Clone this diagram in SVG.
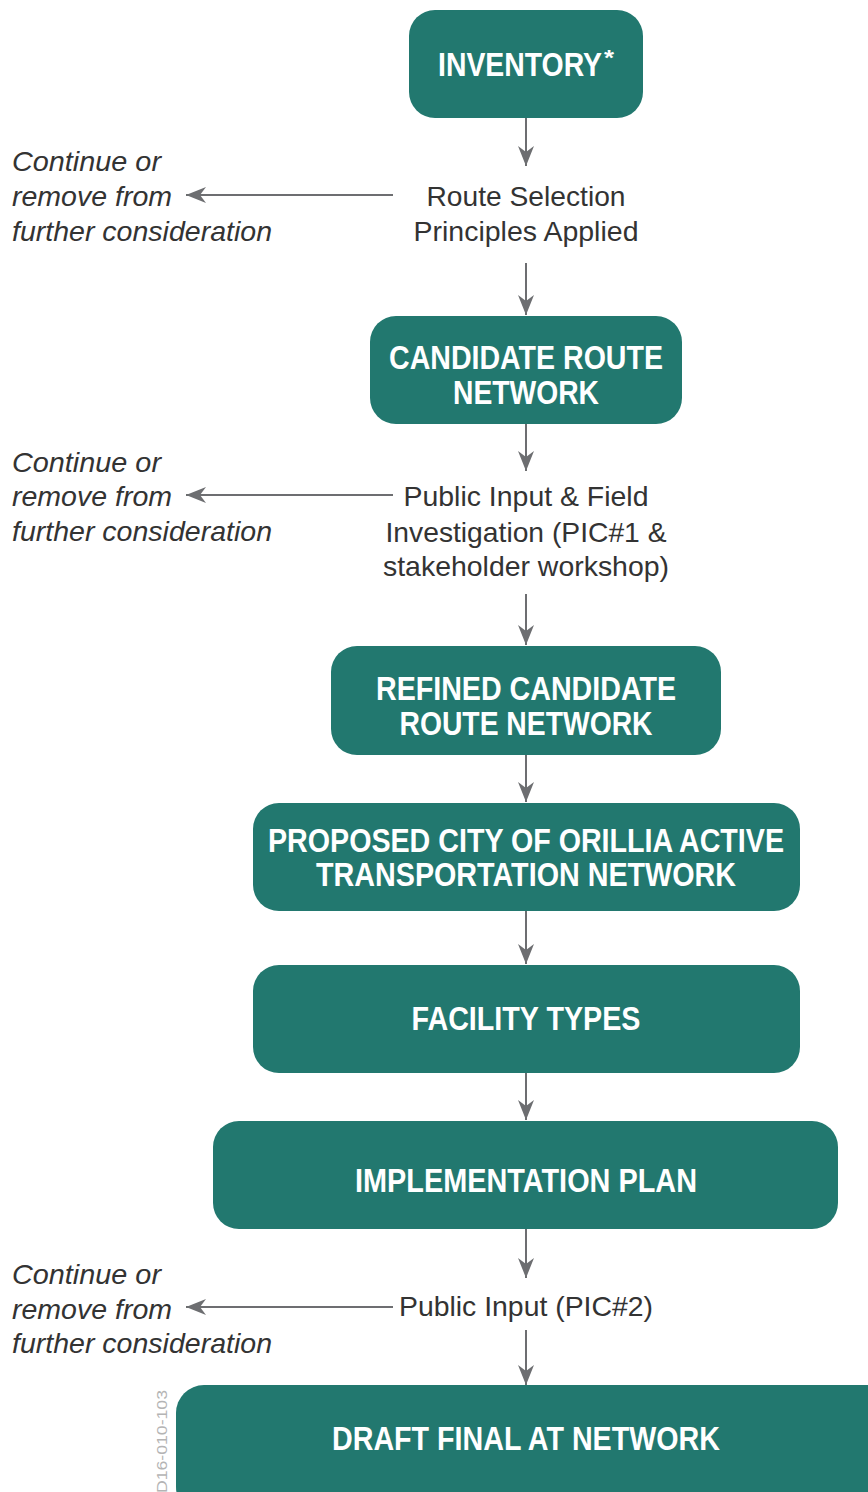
<svg xmlns="http://www.w3.org/2000/svg" width="868" height="1492" viewBox="0 0 868 1492">
  <style>
    .box { fill: #22786f; }
    .lbl { font-family: "Liberation Sans", Arial, sans-serif; font-weight: bold; font-size: 33px; fill: #ffffff; text-anchor: middle; }
    .sup { font-family: "Liberation Sans", Arial, sans-serif; font-weight: bold; font-size: 22px; fill: #ffffff; }
    .step { font-family: "Liberation Sans", Arial, sans-serif; font-size: 28px; fill: #333333; text-anchor: middle; }
    .side { font-family: "Liberation Sans", Arial, sans-serif; font-style: italic; font-size: 28px; fill: #333333; }
    .conn { stroke: #6d6e71; stroke-width: 2; fill: none; marker-end: url(#head); }
    .code { font-family: "Liberation Sans", Arial, sans-serif; font-size: 15px; fill: #b4b4b4; }
  </style>
  <defs>
    <marker id="head" markerUnits="userSpaceOnUse" markerWidth="24" markerHeight="18" refX="20" refY="8" orient="auto">
      <path d="M20,8 L0,0 L6,8 L0,16 Z" fill="#6d6e71"/>
    </marker>
  </defs>

  <rect width="868" height="1492" fill="#ffffff"/>

  <!-- connectors -->
  <g id="connectors">
    <path class="conn" d="M526,118 V166"/>
    <path class="conn" d="M393,195 H186"/>
    <path class="conn" d="M526,263 V315"/>
    <path class="conn" d="M526,424 V471"/>
    <path class="conn" d="M393,495 H186"/>
    <path class="conn" d="M526,594 V645"/>
    <path class="conn" d="M526,755 V802"/>
    <path class="conn" d="M526,911 V964"/>
    <path class="conn" d="M526,1073 V1120"/>
    <path class="conn" d="M526,1229 V1278"/>
    <path class="conn" d="M393,1307 H186"/>
    <path class="conn" d="M526,1330 V1385"/>
  </g>

  <!-- process boxes -->
  <g id="inventory">
    <rect class="box" x="409" y="10" width="234" height="108" rx="26"/>
    <text class="lbl" x="438" y="76" style="text-anchor:start" textLength="164" lengthAdjust="spacingAndGlyphs">INVENTORY</text>
    <text class="sup" x="604" y="65" textLength="10" lengthAdjust="spacingAndGlyphs">*</text>
  </g>

  <g id="candidate">
    <rect class="box" x="370" y="316" width="312" height="108" rx="26"/>
    <text class="lbl" x="526" y="369" textLength="274" lengthAdjust="spacingAndGlyphs">CANDIDATE ROUTE</text>
    <text class="lbl" x="526" y="404" textLength="146" lengthAdjust="spacingAndGlyphs">NETWORK</text>
  </g>

  <g id="refined">
    <rect class="box" x="331" y="646" width="390" height="109" rx="26"/>
    <text class="lbl" x="526" y="700" textLength="300" lengthAdjust="spacingAndGlyphs">REFINED CANDIDATE</text>
    <text class="lbl" x="526" y="735" textLength="253" lengthAdjust="spacingAndGlyphs">ROUTE NETWORK</text>
  </g>

  <g id="proposed">
    <rect class="box" x="253" y="803" width="547" height="108" rx="26"/>
    <text class="lbl" x="526" y="852" textLength="516" lengthAdjust="spacingAndGlyphs">PROPOSED CITY OF ORILLIA ACTIVE</text>
    <text class="lbl" x="526" y="886" textLength="420" lengthAdjust="spacingAndGlyphs">TRANSPORTATION NETWORK</text>
  </g>

  <g id="facility">
    <rect class="box" x="253" y="965" width="547" height="108" rx="26"/>
    <text class="lbl" x="526" y="1030" textLength="229" lengthAdjust="spacingAndGlyphs">FACILITY TYPES</text>
  </g>

  <g id="implementation">
    <rect class="box" x="213" y="1121" width="625" height="108" rx="26"/>
    <text class="lbl" x="526" y="1192" textLength="342" lengthAdjust="spacingAndGlyphs">IMPLEMENTATION PLAN</text>
  </g>

  <g id="draft">
    <rect class="box" x="176" y="1385" width="720" height="130" rx="28"/>
    <text class="lbl" x="526" y="1450" textLength="388" lengthAdjust="spacingAndGlyphs">DRAFT FINAL AT NETWORK</text>
  </g>

  <!-- review steps between boxes -->
  <g id="route-selection">
    <text class="step" x="526" y="206" textLength="199" lengthAdjust="spacingAndGlyphs">Route Selection</text>
    <text class="step" x="526" y="241" textLength="225" lengthAdjust="spacingAndGlyphs">Principles Applied</text>
  </g>

  <g id="public-input-1">
    <text class="step" x="526" y="506" textLength="245" lengthAdjust="spacingAndGlyphs">Public Input &amp; Field</text>
    <text class="step" x="526" y="542" textLength="281" lengthAdjust="spacingAndGlyphs">Investigation (PIC#1 &amp;</text>
    <text class="step" x="526" y="576" textLength="286" lengthAdjust="spacingAndGlyphs">stakeholder workshop)</text>
  </g>

  <g id="public-input-2">
    <text class="step" x="526" y="1316" textLength="254" lengthAdjust="spacingAndGlyphs">Public Input (PIC#2)</text>
  </g>

  <!-- side outcomes -->
  <g id="outcome-1">
    <text class="side" x="12" y="171" textLength="149" lengthAdjust="spacingAndGlyphs">Continue or</text>
    <text class="side" x="12" y="206" textLength="160" lengthAdjust="spacingAndGlyphs">remove from</text>
    <text class="side" x="12" y="241" textLength="260" lengthAdjust="spacingAndGlyphs">further consideration</text>
  </g>

  <g id="outcome-2">
    <text class="side" x="12" y="472" textLength="149" lengthAdjust="spacingAndGlyphs">Continue or</text>
    <text class="side" x="12" y="506" textLength="160" lengthAdjust="spacingAndGlyphs">remove from</text>
    <text class="side" x="12" y="541" textLength="260" lengthAdjust="spacingAndGlyphs">further consideration</text>
  </g>

  <g id="outcome-3">
    <text class="side" x="12" y="1284" textLength="149" lengthAdjust="spacingAndGlyphs">Continue or</text>
    <text class="side" x="12" y="1319" textLength="160" lengthAdjust="spacingAndGlyphs">remove from</text>
    <text class="side" x="12" y="1353" textLength="260" lengthAdjust="spacingAndGlyphs">further consideration</text>
  </g>

  <!-- drawing code -->
  <text class="code" transform="translate(167,1493) rotate(-90)" textLength="103" lengthAdjust="spacingAndGlyphs">D16-010-103</text>
</svg>
